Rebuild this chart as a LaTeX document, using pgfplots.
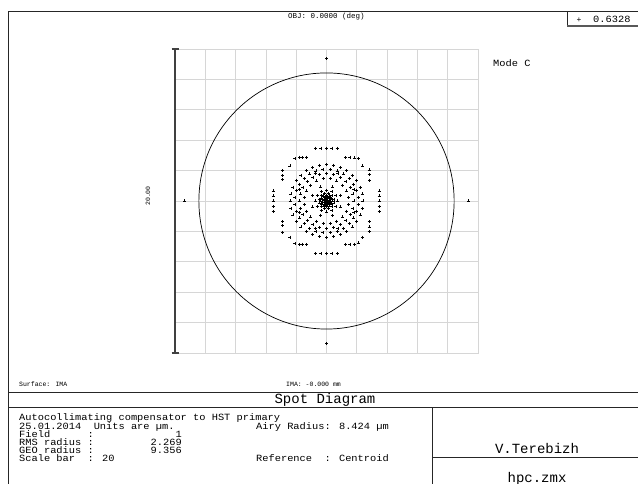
\documentclass[border=0pt]{standalone}
\usepackage{pgfplots}
\pgfplotsset{compat=1.18}
\usepackage{fontspec}
\setmainfont{Liberation Mono}
\newfontfamily\mono{Liberation Mono}
\newfontfamily\monow[FakeStretch=1.09]{Liberation Mono}
\newcommand\fs[1]{\fontsize{#1bp}{#1bp}\selectfont}
\definecolor{gridc}{HTML}{D6D6D6}
\definecolor{framec}{HTML}{262626}
\begin{document}
\begin{tikzpicture}[x=1bp,y=1bp]
\useasboundingbox (0,0) rectangle (638,484);
\fill[white] (0,0) rectangle (638,484);
% frame
\draw[line width=0.9bp, framec] (8,0) -- (8,472.5) -- (638,472.5);
\draw[line width=0.9bp, framec] (8,92) -- (638,92);
\draw[line width=0.9bp, framec] (8,77) -- (638,77);
\draw[line width=0.9bp, framec] (432,0) -- (432,77);
\draw[line width=0.9bp, framec] (432,27) -- (638,27);
\draw[line width=0.9bp, framec] (567,472.5) -- (567,458);
\draw[line width=1.6bp, black!65] (567,458) -- (638,458);

\begin{axis}[at={(175bp,131bp)}, anchor=south west, scale only axis,
  width=303bp, height=304bp,
  xmin=-10, xmax=10, ymin=-10, ymax=10,
  xtick={-10,-8,...,10}, ytick={-10,-8,...,10},
  xticklabels={}, yticklabels={},
  major tick length=0pt,
  grid=major, grid style={gridc, line width=0.7bp},
  axis line style={gridc, line width=0.7bp},
  clip=false]
% Airy disk
\draw[black, line width=0.7bp] (axis cs:0,0) circle [radius=8.424];
% scale bar
\draw[black!75, line width=1.4bp] (axis cs:-10,-10) -- (axis cs:-10,10);
\draw[black!75, line width=1.2bp] ([xshift=-3.5bp]axis cs:-10,10) -- ([xshift=3.5bp]axis cs:-10,10);
\draw[black!75, line width=1.2bp] ([xshift=-3.5bp]axis cs:-10,-10) -- ([xshift=3.5bp]axis cs:-10,-10);
% outer ring and far points (cartesian, micrometres)
\addplot[only marks, mark=+, mark size=1.5bp, black, mark options={line width=0.55bp}] coordinates {
(-0.72,3.48) (-0.37,3.48) (0,3.48) (0.35,3.48) (0.70,3.48)
(-0.72,-3.46) (-0.37,-3.46) (0,-3.46) (0.35,-3.46) (0.70,-3.46)
(-3.52,0.66) (-3.52,0.33) (-3.52,0) (-3.52,-0.33) (-3.52,-0.68)
(3.48,0.66) (3.48,0.33) (3.48,0) (3.48,-0.33) (3.48,-0.68)
(-2.08,2.81) (-1.79,2.88) (-1.57,2.86) (-1.31,2.88) (-2.41,2.31) (-2.89,2.00) (-2.89,1.69) (-2.89,1.43)
(2.10,2.79) (1.86,2.84) (1.55,2.88) (1.26,2.86) (2.36,2.31) (2.82,2.04) (2.82,1.74) (2.84,1.38)
(-2.08,-2.80) (-1.79,-2.86) (-1.57,-2.84) (-1.31,-2.86) (-2.41,-2.37) (-2.89,-2.05) (-2.89,-1.63) (-2.89,-1.36)
(2.10,-2.76) (1.86,-2.84) (1.55,-2.86) (1.26,-2.86) (2.36,-2.37) (2.82,-2.02) (2.82,-1.70) (2.82,-1.36)
(9.36,0) (-9.36,0) (0,9.36) (0,-9.36)
};
% inner rings (angle in degrees, radius in micrometres)
\addplot[only marks, mark=+, mark size=1.5bp, black, mark options={line width=0.55bp}, data cs=polar] coordinates {
(0,2.4) (11.25,2.4) (22.5,2.4) (33.75,2.4) (45,2.4) (56.25,2.4) (67.5,2.4) (78.75,2.4) (90,2.4) (101.25,2.4) (112.5,2.4) (123.75,2.4) (135,2.4) (146.25,2.4) (157.5,2.4) (168.75,2.4) (180,2.4) (191.25,2.4) (202.5,2.4) (213.75,2.4) (225,2.4) (236.25,2.4) (247.5,2.4) (258.75,2.4) (270,2.4) (281.25,2.4) (292.5,2.4) (303.75,2.4) (315,2.4) (326.25,2.4) (337.5,2.4) (348.75,2.4)
(6.43,2.1) (19.29,2.1) (32.14,2.1) (45,2.1) (57.86,2.1) (70.71,2.1) (83.57,2.1) (96.43,2.1) (109.29,2.1) (122.14,2.1) (135,2.1) (147.86,2.1) (160.71,2.1) (173.57,2.1) (186.43,2.1) (199.29,2.1) (212.14,2.1) (225,2.1) (237.86,2.1) (250.71,2.1) (263.57,2.1) (276.43,2.1) (289.29,2.1) (302.14,2.1) (315,2.1) (327.86,2.1) (340.71,2.1) (353.57,2.1)
(22.5,1.95) (67.5,1.95) (112.5,1.95) (157.5,1.95) (202.5,1.95) (247.5,1.95) (292.5,1.95) (337.5,1.95)
(0,1.8) (15,1.8) (30,1.8) (45,1.8) (60,1.8) (75,1.8) (90,1.8) (105,1.8) (120,1.8) (135,1.8) (150,1.8) (165,1.8) (180,1.8) (195,1.8) (210,1.8) (225,1.8) (240,1.8) (255,1.8) (270,1.8) (285,1.8) (300,1.8) (315,1.8) (330,1.8) (345,1.8)
(9,1.48) (27,1.48) (45,1.48) (63,1.48) (81,1.48) (99,1.48) (117,1.48) (135,1.48) (153,1.48) (171,1.48) (189,1.48) (207,1.48) (225,1.48) (243,1.48) (261,1.48) (279,1.48) (297,1.48) (315,1.48) (333,1.48) (351,1.48)
(22.5,1.0) (67.5,1.0) (112.5,1.0) (157.5,1.0) (202.5,1.0) (247.5,1.0) (292.5,1.0) (337.5,1.0)
(0,0.72) (30,0.72) (60,0.72) (90,0.72) (120,0.72) (150,0.72) (180,0.72) (210,0.72) (240,0.72) (270,0.72) (300,0.72) (330,0.72)
(15,0.5) (45,0.5) (75,0.5) (105,0.5) (135,0.5) (165,0.5) (195,0.5) (225,0.5) (255,0.5) (285,0.5) (315,0.5) (345,0.5)
(0,0.38) (30,0.38) (60,0.38) (90,0.38) (120,0.38) (150,0.38) (180,0.38) (210,0.38) (240,0.38) (270,0.38) (300,0.38) (330,0.38)
(18,0.28) (54,0.28) (90,0.28) (126,0.28) (162,0.28) (198,0.28) (234,0.28) (270,0.28) (306,0.28) (342,0.28)
(22.5,0.18) (67.5,0.18) (112.5,0.18) (157.5,0.18) (202.5,0.18) (247.5,0.18) (292.5,0.18) (337.5,0.18)
(30,0.09) (90,0.09) (150,0.09) (210,0.09) (270,0.09) (330,0.09)
(0,0)
};
\end{axis}

% texts
\node[anchor=base west, inner sep=0pt, font=\mono\fs{7.5}] at (288,465.5) {OBJ: 0.0000 (deg)};
\node[anchor=center, inner sep=0pt, font=\mono\fs{8}] at (579,464) {+};
\node[anchor=base west, inner sep=0pt, font=\monow\fs{9.5}] at (593,461) {0.6328};
\node[anchor=base west, inner sep=0pt, font=\monow\fs{9.5}] at (493,417) {Mode C};
\node[rotate=90, inner sep=0pt, font=\mono\fs{6.5}] at (148,288) {20.00};
\node[anchor=base west, inner sep=0pt, font=\mono\fs{6.5}] at (19,97) {Surface: IMA};
\node[anchor=base west, inner sep=0pt, font=\mono\fs{6.5}] at (286,97) {IMA: -0.000 mm};
\node[anchor=base, inner sep=0pt, font=\mono\fs{14}] at (325,80.5) {Spot Diagram};
\node[anchor=base west, inner sep=0pt, font=\monow\fs{9.5}] at (19,63) {Autocollimating compensator to HST primary};
\node[anchor=base west, inner sep=0pt, font=\monow\fs{9.5}] at (19,54.8) {25.01.2014~~Units are µm.};
\node[anchor=base west, inner sep=0pt, font=\monow\fs{9.5}] at (256,54.8) {Airy Radius: 8.424 µm};
\node[anchor=base west, inner sep=0pt, font=\monow\fs{9.5}] at (19,46.6) {Field~~~~~~:};
\node[anchor=base east, inner sep=0pt, font=\monow\fs{9.5}] at (182,46.6) {1};
\node[anchor=base west, inner sep=0pt, font=\monow\fs{9.5}] at (19,38.4) {RMS radius :};
\node[anchor=base east, inner sep=0pt, font=\monow\fs{9.5}] at (182,38.4) {2.269};
\node[anchor=base west, inner sep=0pt, font=\monow\fs{9.5}] at (19,30.2) {GEO radius :};
\node[anchor=base east, inner sep=0pt, font=\monow\fs{9.5}] at (182,30.2) {9.356};
\node[anchor=base west, inner sep=0pt, font=\monow\fs{9.5}] at (19,22) {Scale bar~~: 20};
\node[anchor=base west, inner sep=0pt, font=\monow\fs{9.5}] at (256,22) {Reference~~: Centroid};
\node[anchor=base, inner sep=0pt, font=\mono\fs{14}] at (537,30) {V.Terebizh};
\node[anchor=base, inner sep=0pt, font=\mono\fs{14}] at (537,1.5) {hpc.zmx};
\end{tikzpicture}
\end{document}
